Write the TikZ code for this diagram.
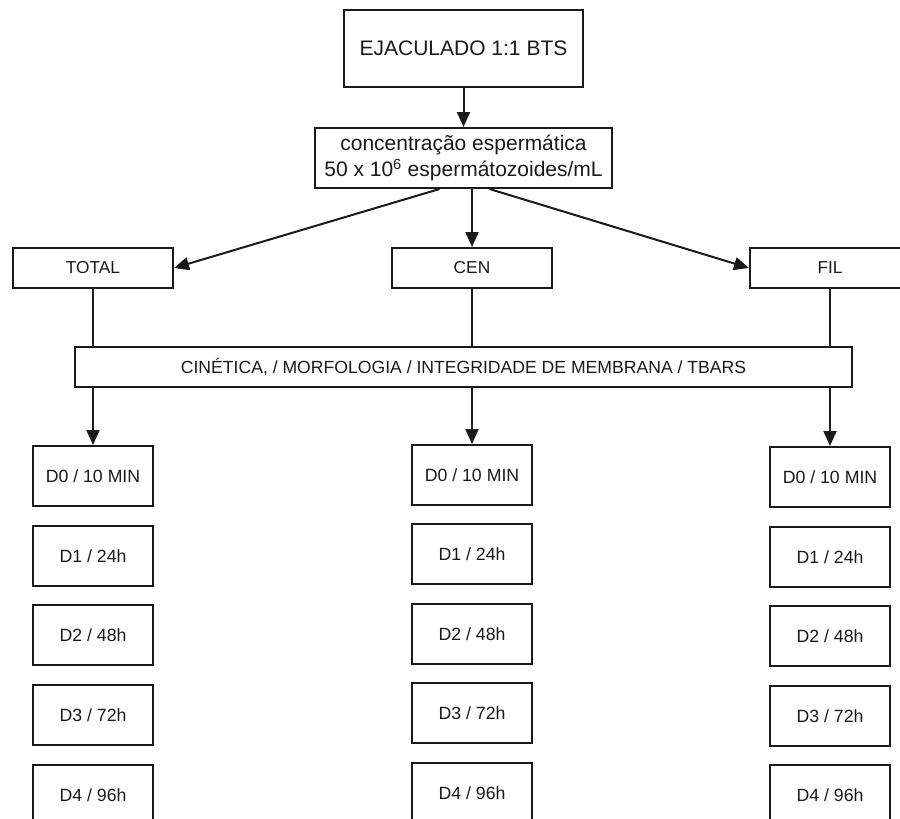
\documentclass[tikz,border=0pt]{standalone}
\usepackage{fontspec}
\setmainfont{Liberation Sans}
\usetikzlibrary{arrows.meta,calc}
\definecolor{ink}{HTML}{1A1A1A}
\begin{document}
\begin{tikzpicture}[x=1pt,y=-1pt,
  box/.style={draw=ink,line width=2pt,rectangle,inner sep=0pt,text=ink,fill=white},
  bigbox/.style={box,font=\fontsize{21}{26}\selectfont},
  grpbox/.style={box,minimum width=160pt,minimum height=40pt,font=\fontsize{17.3}{20}\selectfont},
  daybox/.style={box,minimum width=120pt,minimum height=60pt,font=\fontsize{17.7}{20}\selectfont},
  link/.style={draw=ink,line width=2pt},
  arr/.style={link,-{Triangle[length=15pt,width=13pt]}}]
\useasboundingbox (0,0) rectangle (900,819);
\clip (0,0) rectangle (900,819);
\fill[white] (0,0) rectangle (900,819);
% top
\node[bigbox,minimum width=239pt,minimum height=77pt] (ej) at (463.5,48.5) {EJACULADO 1:1 BTS};
\node[bigbox,minimum width=297pt,minimum height=60pt,align=center] (conc) at (463.5,158)
  {concentração espermática\\50 x 10\textsuperscript{6} espermátozoides/mL};
% groups
\node[grpbox] (total) at (93,268) {TOTAL};
\node[grpbox] (cen) at (472,268) {CEN};
\node[grpbox] (fil) at (830,268) {FIL};
% analyses
\node[box,minimum width=777pt,minimum height=40pt,font=\fontsize{17.6}{20}\selectfont] (cin) at (463.5,367)
  {CINÉTICA, / MORFOLOGIA / INTEGRIDADE DE MEMBRANA / TBARS};
% day boxes
\node[daybox] (t0) at (93,476) {D0 / 10 MIN};
\node[daybox] (t1) at (93,556) {D1 / 24h};
\node[daybox] (t2) at (93,635) {D2 / 48h};
\node[daybox] (t3) at (93,715) {D3 / 72h};
\node[daybox] (t4) at (93,795) {D4 / 96h};
\node[daybox] (c0) at (472,475) {D0 / 10 MIN};
\node[daybox] (c1) at (472,554) {D1 / 24h};
\node[daybox] (c2) at (472,634) {D2 / 48h};
\node[daybox] (c3) at (472,713) {D3 / 72h};
\node[daybox] (c4) at (472,793) {D4 / 96h};
\node[daybox] (f0) at (830,477) {D0 / 10 MIN};
\node[daybox] (f1) at (830,557) {D1 / 24h};
\node[daybox] (f2) at (830,636) {D2 / 48h};
\node[daybox] (f3) at (830,716) {D3 / 72h};
\node[daybox] (f4) at (830,795) {D4 / 96h};
% connectors
\draw[arr] (ej.south) -- (conc.north);
\draw[arr] ([xshift=-24pt]conc.south) -- (total.east);
\draw[arr] (cen.north |- conc.south) -- (cen.north);
\draw[arr] ([xshift=26pt]conc.south) -- (fil.west);
\draw[link] (total.south) -- (total.south |- cin.north);
\draw[link] (cen.south) -- (cen.south |- cin.north);
\draw[link] (fil.south) -- (fil.south |- cin.north);
\draw[arr] (t0.north |- cin.south) -- (t0.north);
\draw[arr] (c0.north |- cin.south) -- (c0.north);
\draw[arr] (f0.north |- cin.south) -- (f0.north);
\end{tikzpicture}
\end{document}
